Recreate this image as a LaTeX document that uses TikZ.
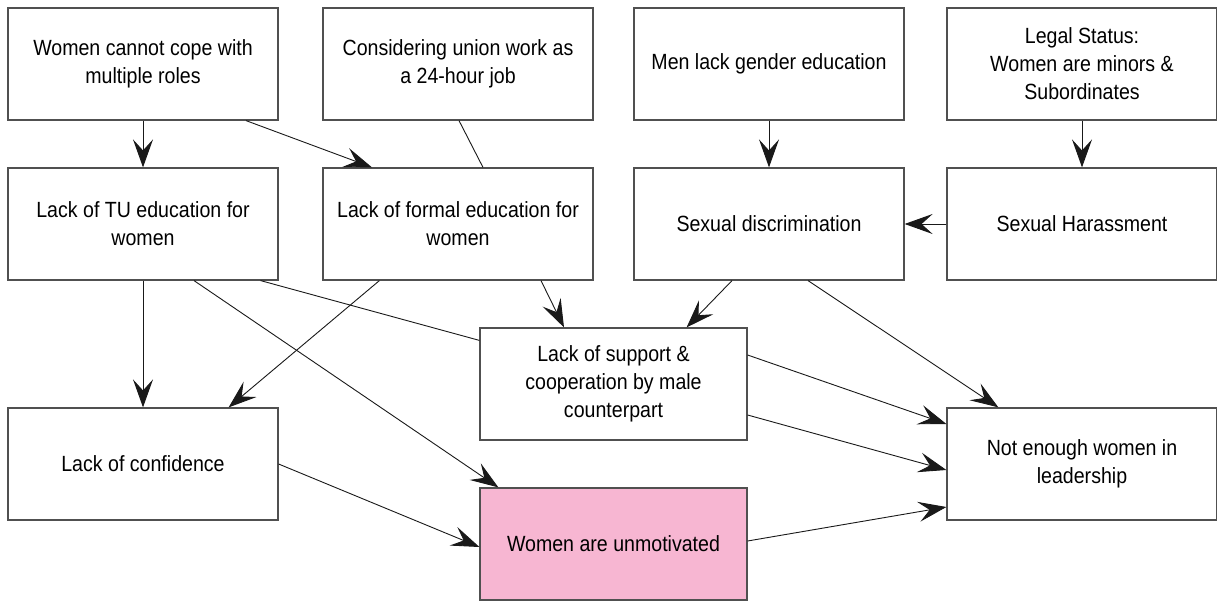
\documentclass[tikz,border=0pt]{standalone}
\usepackage{fontspec}
\setmainfont{Liberation Sans}[FakeStretch=0.89]
\usetikzlibrary{arrows.meta,calc}
\definecolor{pinkfill}{RGB}{247,182,210}
\definecolor{boxline}{RGB}{80,80,80}
\tikzset{
  box/.style={draw=boxline, line width=1.2pt, minimum width=270pt, minimum height=112pt,
    inner sep=0pt, align=center, font=\fontsize{22}{28}\selectfont},
  conn/.style={line width=0.9pt, draw=black!90},
  arr/.style={conn, -{Stealth[length=28pt,width=20pt,inset=11pt]}}
}
\begin{document}
\begin{tikzpicture}[x=1pt,y=-1pt]
\useasboundingbox (0,0) rectangle (1217,601);
\node[box] (A) at (143,64) {Women cannot cope with\\multiple roles};
\node[box] (B) at (458,64) {Considering union work as\\a 24-hour job};
\node[box] (E) at (769,64) {Men lack gender education};
\node[box] (F) at (1082,64) {Legal Status:\\Women are minors \&\\Subordinates};
\node[box] (C) at (143,224) {Lack of TU education for\\women};
\node[box] (D) at (458,224) {Lack of formal education for\\women};
\node[box] (G) at (769,224) {Sexual discrimination};
\node[box] (H) at (1082,224) {Sexual Harassment};
\node[box, minimum width=267pt] (S) at (613.5,384) {Lack of support \&\\cooperation by male\\counterpart};
\node[box] (K) at (143,464) {Lack of confidence};
\node[box, minimum width=267pt, fill=pinkfill] (P) at (613.5,544) {Women are unmotivated};
\node[box] (N) at (1082,464) {Not enough women in\\leadership};

\draw[arr] (A.south) -- (C.north);
\draw[arr] ($(A.south)+(103,0)$) -- ($(D.north)+(-86,0)$);
\draw[conn] ($(B.south)+(1,0)$) -- ($(D.north)+(25,0)$);
\draw[arr] (E.south) -- (G.north);
\draw[arr] (F.south) -- (H.north);
\draw[arr] (H.west) -- (G.east);
\draw[arr] (C.south) -- (K.north);
\draw[arr] ($(C.south)+(51,0)$) -- ($(P.north west)+(19,0)$);
\draw[conn] ($(C.south east)+(-18,0)$) -- ($(S.north west)+(0,13)$);
\draw[arr] ($(D.south west)+(57,0)$) -- ($(K.north east)+(-50,0)$);
\draw[arr] ($(D.south)+(83,0)$) -- ($(S.north)+(-49.5,0)$);
\draw[arr] ($(G.south)+(-37,0)$) -- ($(S.north east)+(-61,0)$);
\draw[arr] ($(G.south)+(39,0)$) -- ($(N.north west)+(52,0)$);
\draw[arr] ($(S.east)+(0,-29)$) -- ($(N.west)+(0,-40)$);
\draw[arr] ($(S.east)+(0,31)$) -- ($(N.west)+(0,6)$);
\draw[arr] ($(P.east)+(0,-3)$) -- ($(N.west)+(0,43)$);
\draw[arr] (K.east) -- ($(P.west)+(0,3)$);
\end{tikzpicture}
\end{document}
